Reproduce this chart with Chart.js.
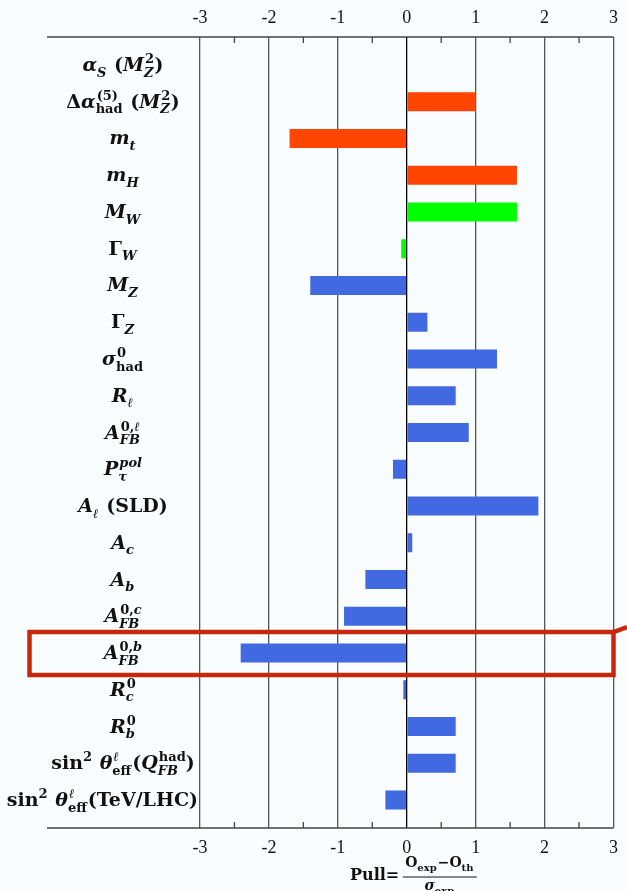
<!DOCTYPE html>
<html>
<head>
    <meta charset="utf-8"/>
    <title>Electroweak fit pulls</title>
    <script src="https://cdn.jsdelivr.net/npm/chart.js@4.4.1/dist/chart.umd.min.js"></script>
    <style>
        html, body { margin: 0; padding: 0; background: #f9fdff; }
        #wrap { width: 627px; height: 891px; position: relative; }
    </style>
</head>
<body>
<div id="wrap"><canvas id="pullChart"></canvas></div>
<script>
    // observables, top to bottom. _{..} = subscript, ^{..} = superscript, [..] = upright text
    const labels = [
        'α_{S} [(]M_{Z}^{[2]}[)]',
        '[Δ]α_{[had]}^{[(5)]} [(]M_{Z}^{[2]}[)]',
        'm_{t}',
        'm_{H}',
        'M_{W}',
        '[Γ]_{W}',
        'M_{Z}',
        '[Γ]_{Z}',
        'σ_{[had]}^{[0]}',
        'R_{ℓ}',
        'A_{FB}^{[0,]ℓ}',
        'P_{τ}^{pol}',
        'A_{ℓ} [(SLD)]',
        'A_{c}',
        'A_{b}',
        'A_{FB}^{[0,]c}',
        'A_{FB}^{[0,]b}',
        'R_{c}^{[0]}',
        'R_{b}^{[0]}',
        '[sin]^{[2]} θ_{[eff]}^{ℓ}[(]Q_{FB}^{[had]}[)]',
        '[sin]^{[2]} θ_{[eff]}^{ℓ}[(TeV/LHC)]'
    ];
    const pulls = [0, 1.0, -1.7, 1.6, 1.6, -0.08, -1.4, 0.3, 1.31, 0.71, 0.9, -0.2, 1.91, 0.08, -0.6, -0.91, -2.41, -0.05, 0.71, 0.71, -0.31];
    const groups = ['input', 'input', 'input', 'input', 'W', 'W', 'Z', 'Z', 'Z', 'Z', 'Z', 'Z', 'Z', 'Z', 'Z', 'Z', 'Z', 'Z', 'Z', 'Z', 'Z'];
    const xTicks = [-3, -2, -1, 0, 1, 2, 3];
    const minorTicks = [-2.5, -1.5, -0.5, 0.5, 1.5, 2.5];
    const highlighted = 16;

    const groupColours = { input: '#ff4500', W: '#00ff00', Z: '#4169e1' };
    const serif = '"Liberation Serif", serif';
    const mathFont = '"DejaVu Serif", serif';

    /**
     * Split a label into atoms: {text, up, sub, sup}
     */
    function parseMath(src) {
        const atoms = [];
        let i = 0;
        while (i < src.length) {
            const c = src[i];
            if (c === '_' || c === '^') {
                let j = i + 2, body = '';
                while (j < src.length && src[j] !== '}') { body += src[j]; j++; }
                const last = atoms[atoms.length - 1];
                if (c === '_') last.sub = body; else last.sup = body;
                i = j + 1;
            } else if (c === '[') {
                const j = src.indexOf(']', i);
                atoms.push({ text: src.slice(i + 1, j), up: true });
                i = j + 1;
            } else {
                atoms.push({ text: c, up: c === ' ' });
                i++;
            }
        }
        return atoms;
    }

    function fontFor(up, size) {
        return (up ? '' : 'italic ') + 'bold ' + size + 'px ' + mathFont;
    }

    /**
     * Measure (and optionally paint) a label, returns its width
     */
    function renderMath(ctx, src, x, y, size, paint) {
        let cx = x;
        for (const a of parseMath(src)) {
            ctx.font = fontFor(a.up, size);
            const w = ctx.measureText(a.text).width;
            if (paint) ctx.fillText(a.text, cx, y);
            cx += w;
            if (a.sub || a.sup) {
                const s = Math.round(size * 0.68);
                let ws = 0, wp = 0;
                if (a.sub) ws = renderMath(ctx, a.sub, cx, y + size * 0.3, s, paint);
                if (a.sup) wp = renderMath(ctx, a.sup, cx + (a.up ? 0 : 1), y - size * 0.42, s, paint);
                cx += Math.max(ws, wp) + 1;
            }
        }
        return cx - x;
    }

    const decor = {
        id: 'decor',
        afterDraw(chart) {
            const ctx = chart.ctx;
            const area = chart.chartArea;
            const xs = chart.scales.x;
            const ys = chart.scales.y;
            ctx.save();

            // long horizontal axis lines running over the label column
            ctx.strokeStyle = '#444';
            ctx.lineWidth = 1.5;
            ctx.beginPath();
            ctx.moveTo(47, area.top); ctx.lineTo(area.right, area.top);
            ctx.moveTo(47, area.bottom); ctx.lineTo(area.right, area.bottom);
            ctx.stroke();

            // minor ticks
            ctx.lineWidth = 1.3;
            ctx.beginPath();
            minorTicks.forEach(v => {
                const px = xs.getPixelForValue(v);
                ctx.moveTo(px, area.top); ctx.lineTo(px, area.top + 6);
                ctx.moveTo(px, area.bottom); ctx.lineTo(px, area.bottom - 6);
            });
            ctx.stroke();

            // row labels
            ctx.fillStyle = '#111';
            ctx.textBaseline = 'alphabetic';
            labels.forEach((lab, i) => {
                const size = 19;
                const w = renderMath(ctx, lab, 0, 0, size, false);
                let x0 = 123 - w / 2;
                if (x0 + w > 198) x0 = 198 - w;
                renderMath(ctx, lab, x0, ys.getPixelForValue(i) + 6, size, true);
            });

            // axis title: Pull = (O_exp - O_th) / sigma_exp
            const cxT = xs.getPixelForValue(0.48);
            renderMath(ctx, '[Pull=]', 350, 880, 16, true);
            const numW = renderMath(ctx, '[O]_{[exp]}[−O]_{[th]}', 0, 0, 14, false);
            renderMath(ctx, '[O]_{[exp]}[−O]_{[th]}', cxT - numW / 2, 867, 14, true);
            const denW = renderMath(ctx, 'σ_{[exp]}', 0, 0, 14, false);
            renderMath(ctx, 'σ_{[exp]}', cxT - denW / 2, 890, 14, true);
            ctx.strokeStyle = '#111';
            ctx.lineWidth = 1;
            ctx.beginPath();
            ctx.moveTo(cxT - 37, 877); ctx.lineTo(cxT + 37, 877);
            ctx.stroke();

            // highlight box around one row
            const yc = ys.getPixelForValue(highlighted);
            ctx.strokeStyle = '#c8280a';
            ctx.lineWidth = 4.5;
            ctx.lineJoin = 'miter';
            ctx.beginPath();
            ctx.moveTo(area.right, yc - 21);
            ctx.lineTo(29.5, yc - 21);
            ctx.lineTo(29.5, yc + 22);
            ctx.lineTo(area.right, yc + 22);
            ctx.lineTo(area.right, yc - 21);
            ctx.lineTo(627, yc - 26);
            ctx.stroke();

            ctx.restore();
        }
    };

    const tickFont = { family: serif, size: 18 };

    const pullChart = new Chart(document.getElementById('pullChart'), {
        type: 'bar',
        data: {
            datasets: [{
                data: pulls.map((v, i) => ({ x: v, y: i })),
                backgroundColor: groups.map(g => groupColours[g]),
                borderWidth: 0,
                inflateAmount: 0,
                barThickness: 19
            }]
        },
        options: {
            indexAxis: 'y',
            responsive: true,
            maintainAspectRatio: false,
            animation: false,
            layout: { padding: { left: 200, right: 7 } },
            plugins: {
                legend: { display: false },
                tooltip: { enabled: false }
            },
            scales: {
                x: {
                    type: 'linear',
                    position: 'bottom',
                    min: -3,
                    max: 3,
                    z: 1,
                    afterBuildTicks: s => { s.ticks = xTicks.map(v => ({ value: v })); },
                    ticks: { padding: 9, color: '#111', font: tickFont },
                    grid: {
                        drawTicks: false,
                        color: c => (c.tick && c.tick.value === 0) ? '#000' : '#555',
                        lineWidth: 1.3
                    },
                    border: { display: false },
                    afterFit: s => { s.height = 63; }
                },
                x2: {
                    type: 'linear',
                    position: 'top',
                    min: -3,
                    max: 3,
                    afterBuildTicks: s => { s.ticks = xTicks.map(v => ({ value: v })); },
                    ticks: { padding: 8, color: '#111', font: tickFont },
                    grid: { display: false, drawTicks: false },
                    border: { display: false },
                    afterFit: s => { s.height = 37; }
                },
                y: {
                    type: 'linear',
                    min: -0.76,
                    max: 20.76,
                    reverse: true,
                    offset: false,
                    grid: { offset: false },
                    display: false
                }
            }
        },
        plugins: [decor]
    });
</script>
</body>
</html>
